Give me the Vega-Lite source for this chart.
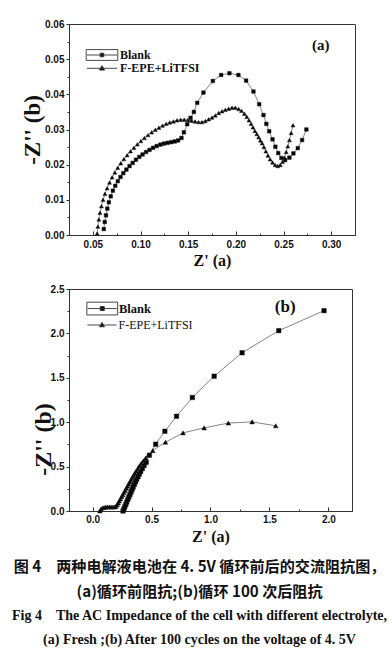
{
  "$schema": "https://vega.github.io/schema/vega-lite/v6.json",
  "background": "white",
  "padding": {"left": 11, "top": 18, "right": 5, "bottom": 5},
  "datasets": {
    "imp": [
      {"panel":"a","series":"Blank","i":1,"x":0.0615,"y":0.0017},
      {"panel":"a","series":"Blank","i":2,"x":0.0625,"y":0.0037},
      {"panel":"a","series":"Blank","i":3,"x":0.0638,"y":0.0056},
      {"panel":"a","series":"Blank","i":4,"x":0.0652,"y":0.0075},
      {"panel":"a","series":"Blank","i":5,"x":0.0668,"y":0.0093},
      {"panel":"a","series":"Blank","i":6,"x":0.0688,"y":0.0110},
      {"panel":"a","series":"Blank","i":7,"x":0.0710,"y":0.0126},
      {"panel":"a","series":"Blank","i":8,"x":0.0735,"y":0.0140},
      {"panel":"a","series":"Blank","i":9,"x":0.0762,"y":0.0153},
      {"panel":"a","series":"Blank","i":10,"x":0.0790,"y":0.0165},
      {"panel":"a","series":"Blank","i":11,"x":0.0820,"y":0.0176},
      {"panel":"a","series":"Blank","i":12,"x":0.0852,"y":0.0186},
      {"panel":"a","series":"Blank","i":13,"x":0.0885,"y":0.0196},
      {"panel":"a","series":"Blank","i":14,"x":0.0918,"y":0.0205},
      {"panel":"a","series":"Blank","i":15,"x":0.0952,"y":0.0214},
      {"panel":"a","series":"Blank","i":16,"x":0.0987,"y":0.0222},
      {"panel":"a","series":"Blank","i":17,"x":0.1022,"y":0.0229},
      {"panel":"a","series":"Blank","i":18,"x":0.1058,"y":0.0236},
      {"panel":"a","series":"Blank","i":19,"x":0.1095,"y":0.0242},
      {"panel":"a","series":"Blank","i":20,"x":0.1132,"y":0.0248},
      {"panel":"a","series":"Blank","i":21,"x":0.1170,"y":0.0253},
      {"panel":"a","series":"Blank","i":22,"x":0.1208,"y":0.0257},
      {"panel":"a","series":"Blank","i":23,"x":0.1246,"y":0.0260},
      {"panel":"a","series":"Blank","i":24,"x":0.1284,"y":0.0262},
      {"panel":"a","series":"Blank","i":25,"x":0.1322,"y":0.0264},
      {"panel":"a","series":"Blank","i":26,"x":0.1360,"y":0.0266},
      {"panel":"a","series":"Blank","i":27,"x":0.1395,"y":0.0269},
      {"panel":"a","series":"Blank","i":28,"x":0.1430,"y":0.0276},
      {"panel":"a","series":"Blank","i":29,"x":0.1455,"y":0.0292},
      {"panel":"a","series":"Blank","i":30,"x":0.1490,"y":0.0315},
      {"panel":"a","series":"Blank","i":31,"x":0.1525,"y":0.0333},
      {"panel":"a","series":"Blank","i":32,"x":0.1560,"y":0.0350},
      {"panel":"a","series":"Blank","i":33,"x":0.1595,"y":0.0376},
      {"panel":"a","series":"Blank","i":34,"x":0.1660,"y":0.0405},
      {"panel":"a","series":"Blank","i":35,"x":0.1759,"y":0.0438},
      {"panel":"a","series":"Blank","i":36,"x":0.1846,"y":0.0455},
      {"panel":"a","series":"Blank","i":37,"x":0.1933,"y":0.0460},
      {"panel":"a","series":"Blank","i":38,"x":0.2027,"y":0.0455},
      {"panel":"a","series":"Blank","i":39,"x":0.2108,"y":0.0439},
      {"panel":"a","series":"Blank","i":40,"x":0.2185,"y":0.0408},
      {"panel":"a","series":"Blank","i":41,"x":0.2245,"y":0.0372},
      {"panel":"a","series":"Blank","i":42,"x":0.2290,"y":0.0341},
      {"panel":"a","series":"Blank","i":43,"x":0.2320,"y":0.0316},
      {"panel":"a","series":"Blank","i":44,"x":0.2350,"y":0.0295},
      {"panel":"a","series":"Blank","i":45,"x":0.2385,"y":0.0272},
      {"panel":"a","series":"Blank","i":46,"x":0.2415,"y":0.0251},
      {"panel":"a","series":"Blank","i":47,"x":0.2445,"y":0.0233},
      {"panel":"a","series":"Blank","i":48,"x":0.2478,"y":0.0219},
      {"panel":"a","series":"Blank","i":49,"x":0.2517,"y":0.0213},
      {"panel":"a","series":"Blank","i":50,"x":0.2562,"y":0.0220},
      {"panel":"a","series":"Blank","i":51,"x":0.2604,"y":0.0232},
      {"panel":"a","series":"Blank","i":52,"x":0.2650,"y":0.0247},
      {"panel":"a","series":"Blank","i":53,"x":0.2695,"y":0.0270},
      {"panel":"a","series":"Blank","i":54,"x":0.2740,"y":0.0300},
      {"panel":"a","series":"F-EPE+LiTFSI","i":1,"x":0.0545,"y":0.0004},
      {"panel":"a","series":"F-EPE+LiTFSI","i":2,"x":0.0553,"y":0.0024},
      {"panel":"a","series":"F-EPE+LiTFSI","i":3,"x":0.0563,"y":0.0044},
      {"panel":"a","series":"F-EPE+LiTFSI","i":4,"x":0.0575,"y":0.0063},
      {"panel":"a","series":"F-EPE+LiTFSI","i":5,"x":0.0590,"y":0.0082},
      {"panel":"a","series":"F-EPE+LiTFSI","i":6,"x":0.0607,"y":0.0100},
      {"panel":"a","series":"F-EPE+LiTFSI","i":7,"x":0.0627,"y":0.0117},
      {"panel":"a","series":"F-EPE+LiTFSI","i":8,"x":0.0650,"y":0.0133},
      {"panel":"a","series":"F-EPE+LiTFSI","i":9,"x":0.0675,"y":0.0149},
      {"panel":"a","series":"F-EPE+LiTFSI","i":10,"x":0.0702,"y":0.0164},
      {"panel":"a","series":"F-EPE+LiTFSI","i":11,"x":0.0731,"y":0.0178},
      {"panel":"a","series":"F-EPE+LiTFSI","i":12,"x":0.0761,"y":0.0191},
      {"panel":"a","series":"F-EPE+LiTFSI","i":13,"x":0.0793,"y":0.0204},
      {"panel":"a","series":"F-EPE+LiTFSI","i":14,"x":0.0826,"y":0.0216},
      {"panel":"a","series":"F-EPE+LiTFSI","i":15,"x":0.0860,"y":0.0227},
      {"panel":"a","series":"F-EPE+LiTFSI","i":16,"x":0.0895,"y":0.0238},
      {"panel":"a","series":"F-EPE+LiTFSI","i":17,"x":0.0931,"y":0.0248},
      {"panel":"a","series":"F-EPE+LiTFSI","i":18,"x":0.0967,"y":0.0258},
      {"panel":"a","series":"F-EPE+LiTFSI","i":19,"x":0.1004,"y":0.0267},
      {"panel":"a","series":"F-EPE+LiTFSI","i":20,"x":0.1041,"y":0.0276},
      {"panel":"a","series":"F-EPE+LiTFSI","i":21,"x":0.1079,"y":0.0284},
      {"panel":"a","series":"F-EPE+LiTFSI","i":22,"x":0.1117,"y":0.0292},
      {"panel":"a","series":"F-EPE+LiTFSI","i":23,"x":0.1155,"y":0.0299},
      {"panel":"a","series":"F-EPE+LiTFSI","i":24,"x":0.1193,"y":0.0305},
      {"panel":"a","series":"F-EPE+LiTFSI","i":25,"x":0.1231,"y":0.0311},
      {"panel":"a","series":"F-EPE+LiTFSI","i":26,"x":0.1269,"y":0.0316},
      {"panel":"a","series":"F-EPE+LiTFSI","i":27,"x":0.1307,"y":0.0320},
      {"panel":"a","series":"F-EPE+LiTFSI","i":28,"x":0.1345,"y":0.0323},
      {"panel":"a","series":"F-EPE+LiTFSI","i":29,"x":0.1383,"y":0.0326},
      {"panel":"a","series":"F-EPE+LiTFSI","i":30,"x":0.1421,"y":0.0328},
      {"panel":"a","series":"F-EPE+LiTFSI","i":31,"x":0.1459,"y":0.0328},
      {"panel":"a","series":"F-EPE+LiTFSI","i":32,"x":0.1497,"y":0.0327},
      {"panel":"a","series":"F-EPE+LiTFSI","i":33,"x":0.1535,"y":0.0325},
      {"panel":"a","series":"F-EPE+LiTFSI","i":34,"x":0.1572,"y":0.0323},
      {"panel":"a","series":"F-EPE+LiTFSI","i":35,"x":0.1609,"y":0.0321},
      {"panel":"a","series":"F-EPE+LiTFSI","i":36,"x":0.1645,"y":0.0321},
      {"panel":"a","series":"F-EPE+LiTFSI","i":37,"x":0.1680,"y":0.0324},
      {"panel":"a","series":"F-EPE+LiTFSI","i":38,"x":0.1715,"y":0.0329},
      {"panel":"a","series":"F-EPE+LiTFSI","i":39,"x":0.1750,"y":0.0334},
      {"panel":"a","series":"F-EPE+LiTFSI","i":40,"x":0.1785,"y":0.0340},
      {"panel":"a","series":"F-EPE+LiTFSI","i":41,"x":0.1820,"y":0.0347},
      {"panel":"a","series":"F-EPE+LiTFSI","i":42,"x":0.1855,"y":0.0352},
      {"panel":"a","series":"F-EPE+LiTFSI","i":43,"x":0.1890,"y":0.0356},
      {"panel":"a","series":"F-EPE+LiTFSI","i":44,"x":0.1925,"y":0.0359},
      {"panel":"a","series":"F-EPE+LiTFSI","i":45,"x":0.1960,"y":0.0362},
      {"panel":"a","series":"F-EPE+LiTFSI","i":46,"x":0.1995,"y":0.0362},
      {"panel":"a","series":"F-EPE+LiTFSI","i":47,"x":0.2030,"y":0.0358},
      {"panel":"a","series":"F-EPE+LiTFSI","i":48,"x":0.2060,"y":0.0353},
      {"panel":"a","series":"F-EPE+LiTFSI","i":49,"x":0.2090,"y":0.0345},
      {"panel":"a","series":"F-EPE+LiTFSI","i":50,"x":0.2115,"y":0.0336},
      {"panel":"a","series":"F-EPE+LiTFSI","i":51,"x":0.2138,"y":0.0326},
      {"panel":"a","series":"F-EPE+LiTFSI","i":52,"x":0.2160,"y":0.0316},
      {"panel":"a","series":"F-EPE+LiTFSI","i":53,"x":0.2180,"y":0.0306},
      {"panel":"a","series":"F-EPE+LiTFSI","i":54,"x":0.2200,"y":0.0296},
      {"panel":"a","series":"F-EPE+LiTFSI","i":55,"x":0.2220,"y":0.0287},
      {"panel":"a","series":"F-EPE+LiTFSI","i":56,"x":0.2240,"y":0.0278},
      {"panel":"a","series":"F-EPE+LiTFSI","i":57,"x":0.2258,"y":0.0269},
      {"panel":"a","series":"F-EPE+LiTFSI","i":58,"x":0.2276,"y":0.0261},
      {"panel":"a","series":"F-EPE+LiTFSI","i":59,"x":0.2295,"y":0.0250},
      {"panel":"a","series":"F-EPE+LiTFSI","i":60,"x":0.2315,"y":0.0238},
      {"panel":"a","series":"F-EPE+LiTFSI","i":61,"x":0.2337,"y":0.0226},
      {"panel":"a","series":"F-EPE+LiTFSI","i":62,"x":0.2360,"y":0.0215},
      {"panel":"a","series":"F-EPE+LiTFSI","i":63,"x":0.2385,"y":0.0206},
      {"panel":"a","series":"F-EPE+LiTFSI","i":64,"x":0.2412,"y":0.0199},
      {"panel":"a","series":"F-EPE+LiTFSI","i":65,"x":0.2440,"y":0.0196},
      {"panel":"a","series":"F-EPE+LiTFSI","i":66,"x":0.2466,"y":0.0199},
      {"panel":"a","series":"F-EPE+LiTFSI","i":67,"x":0.2490,"y":0.0208},
      {"panel":"a","series":"F-EPE+LiTFSI","i":68,"x":0.2510,"y":0.0220},
      {"panel":"a","series":"F-EPE+LiTFSI","i":69,"x":0.2528,"y":0.0236},
      {"panel":"a","series":"F-EPE+LiTFSI","i":70,"x":0.2545,"y":0.0252},
      {"panel":"a","series":"F-EPE+LiTFSI","i":71,"x":0.2562,"y":0.0270},
      {"panel":"a","series":"F-EPE+LiTFSI","i":72,"x":0.2580,"y":0.0290},
      {"panel":"a","series":"F-EPE+LiTFSI","i":73,"x":0.2600,"y":0.0312},
      {"panel":"b","series":"Blank","i":1,"x":0.258,"y":0.000},
      {"panel":"b","series":"Blank","i":2,"x":0.266,"y":0.025},
      {"panel":"b","series":"Blank","i":3,"x":0.274,"y":0.050},
      {"panel":"b","series":"Blank","i":4,"x":0.282,"y":0.075},
      {"panel":"b","series":"Blank","i":5,"x":0.290,"y":0.101},
      {"panel":"b","series":"Blank","i":6,"x":0.299,"y":0.130},
      {"panel":"b","series":"Blank","i":7,"x":0.308,"y":0.158},
      {"panel":"b","series":"Blank","i":8,"x":0.317,"y":0.186},
      {"panel":"b","series":"Blank","i":9,"x":0.326,"y":0.214},
      {"panel":"b","series":"Blank","i":10,"x":0.335,"y":0.242},
      {"panel":"b","series":"Blank","i":11,"x":0.344,"y":0.270},
      {"panel":"b","series":"Blank","i":12,"x":0.354,"y":0.299},
      {"panel":"b","series":"Blank","i":13,"x":0.364,"y":0.328},
      {"panel":"b","series":"Blank","i":14,"x":0.374,"y":0.357},
      {"panel":"b","series":"Blank","i":15,"x":0.385,"y":0.386},
      {"panel":"b","series":"Blank","i":16,"x":0.396,"y":0.415},
      {"panel":"b","series":"Blank","i":17,"x":0.408,"y":0.445},
      {"panel":"b","series":"Blank","i":18,"x":0.422,"y":0.478},
      {"panel":"b","series":"Blank","i":19,"x":0.437,"y":0.512},
      {"panel":"b","series":"Blank","i":20,"x":0.455,"y":0.548},
      {"panel":"b","series":"Blank","i":21,"x":0.482,"y":0.628},
      {"panel":"b","series":"Blank","i":22,"x":0.535,"y":0.752},
      {"panel":"b","series":"Blank","i":23,"x":0.613,"y":0.898},
      {"panel":"b","series":"Blank","i":24,"x":0.712,"y":1.067},
      {"panel":"b","series":"Blank","i":25,"x":0.846,"y":1.278},
      {"panel":"b","series":"Blank","i":26,"x":1.031,"y":1.518},
      {"panel":"b","series":"Blank","i":27,"x":1.268,"y":1.782},
      {"panel":"b","series":"Blank","i":28,"x":1.579,"y":2.031},
      {"panel":"b","series":"Blank","i":29,"x":1.963,"y":2.256},
      {"panel":"b","series":"F-EPE+LiTFSI","i":1,"x":0.062,"y":0.000},
      {"panel":"b","series":"F-EPE+LiTFSI","i":2,"x":0.070,"y":0.020},
      {"panel":"b","series":"F-EPE+LiTFSI","i":3,"x":0.082,"y":0.033},
      {"panel":"b","series":"F-EPE+LiTFSI","i":4,"x":0.097,"y":0.040},
      {"panel":"b","series":"F-EPE+LiTFSI","i":5,"x":0.112,"y":0.044},
      {"panel":"b","series":"F-EPE+LiTFSI","i":6,"x":0.127,"y":0.046},
      {"panel":"b","series":"F-EPE+LiTFSI","i":7,"x":0.142,"y":0.046},
      {"panel":"b","series":"F-EPE+LiTFSI","i":8,"x":0.157,"y":0.045},
      {"panel":"b","series":"F-EPE+LiTFSI","i":9,"x":0.172,"y":0.044},
      {"panel":"b","series":"F-EPE+LiTFSI","i":10,"x":0.186,"y":0.045},
      {"panel":"b","series":"F-EPE+LiTFSI","i":11,"x":0.198,"y":0.052},
      {"panel":"b","series":"F-EPE+LiTFSI","i":12,"x":0.208,"y":0.070},
      {"panel":"b","series":"F-EPE+LiTFSI","i":13,"x":0.217,"y":0.090},
      {"panel":"b","series":"F-EPE+LiTFSI","i":14,"x":0.226,"y":0.112},
      {"panel":"b","series":"F-EPE+LiTFSI","i":15,"x":0.236,"y":0.136},
      {"panel":"b","series":"F-EPE+LiTFSI","i":16,"x":0.246,"y":0.160},
      {"panel":"b","series":"F-EPE+LiTFSI","i":17,"x":0.256,"y":0.184},
      {"panel":"b","series":"F-EPE+LiTFSI","i":18,"x":0.266,"y":0.208},
      {"panel":"b","series":"F-EPE+LiTFSI","i":19,"x":0.276,"y":0.232},
      {"panel":"b","series":"F-EPE+LiTFSI","i":20,"x":0.286,"y":0.256},
      {"panel":"b","series":"F-EPE+LiTFSI","i":21,"x":0.296,"y":0.280},
      {"panel":"b","series":"F-EPE+LiTFSI","i":22,"x":0.306,"y":0.304},
      {"panel":"b","series":"F-EPE+LiTFSI","i":23,"x":0.316,"y":0.328},
      {"panel":"b","series":"F-EPE+LiTFSI","i":24,"x":0.326,"y":0.352},
      {"panel":"b","series":"F-EPE+LiTFSI","i":25,"x":0.336,"y":0.376},
      {"panel":"b","series":"F-EPE+LiTFSI","i":26,"x":0.347,"y":0.400},
      {"panel":"b","series":"F-EPE+LiTFSI","i":27,"x":0.358,"y":0.425},
      {"panel":"b","series":"F-EPE+LiTFSI","i":28,"x":0.370,"y":0.450},
      {"panel":"b","series":"F-EPE+LiTFSI","i":29,"x":0.383,"y":0.478},
      {"panel":"b","series":"F-EPE+LiTFSI","i":30,"x":0.397,"y":0.506},
      {"panel":"b","series":"F-EPE+LiTFSI","i":31,"x":0.412,"y":0.534},
      {"panel":"b","series":"F-EPE+LiTFSI","i":32,"x":0.430,"y":0.565},
      {"panel":"b","series":"F-EPE+LiTFSI","i":33,"x":0.450,"y":0.597},
      {"panel":"b","series":"F-EPE+LiTFSI","i":34,"x":0.475,"y":0.632},
      {"panel":"b","series":"F-EPE+LiTFSI","i":35,"x":0.510,"y":0.680},
      {"panel":"b","series":"F-EPE+LiTFSI","i":36,"x":0.618,"y":0.775},
      {"panel":"b","series":"F-EPE+LiTFSI","i":37,"x":0.767,"y":0.880},
      {"panel":"b","series":"F-EPE+LiTFSI","i":38,"x":0.946,"y":0.936},
      {"panel":"b","series":"F-EPE+LiTFSI","i":39,"x":1.151,"y":0.990},
      {"panel":"b","series":"F-EPE+LiTFSI","i":40,"x":1.353,"y":1.004},
      {"panel":"b","series":"F-EPE+LiTFSI","i":41,"x":1.553,"y":0.959}
    ]
  },
  "data": {"name": "imp"},
  "title": {
    "text": ["图 4　两种电解液电池在 4. 5V 循环前后的交流阻抗图，", "(a)循环前阻抗;(b)循环 100 次后阻抗"],
    "subtitle": ["Fig 4　The AC Impedance of the cell with different electrolyte,", "(a) Fresh ;(b) After 100 cycles on the voltage of 4. 5V"],
    "orient": "bottom",
    "anchor": "middle",
    "offset": 15,
    "dx": 11,
    "font": "Noto Sans CJK SC",
    "fontSize": 15.1,
    "fontWeight": "bold",
    "lineHeight": 25,
    "color": "#111",
    "subtitleFont": "Liberation Serif",
    "subtitleFontSize": 14,
    "subtitleFontWeight": "bold",
    "subtitleLineHeight": 24,
    "subtitleColor": "#111",
    "subtitlePadding": 8.7
  },
  "spacing": 14,
  "vconcat": [
    {
      "width": 286,
      "height": 211,
      "transform": [{"filter": "datum.panel == 'a'"}],
      "resolve": {"scale": {"color": "independent"}},
      "layer": [
        {
          "mark": {"type": "line", "color": "#666", "strokeWidth": 0.8},
          "encoding": {
            "x": {"field": "x", "type": "quantitative", "scale": {"domain": [0.025, 0.325], "nice": false, "zero": false},
              "axis": {"title": "Z' (a)", "tickCount": 100, "values": [0.025,0.05,0.075,0.1,0.125,0.15,0.175,0.2,0.225,0.25,0.275,0.3,0.325],
                "labelExpr": "abs(datum.value/0.05 - round(datum.value/0.05)) < 0.01 ? format(datum.value, '.2f') : ''",
                "tickSize": {"condition": {"test": "abs(datum.value/0.05 - round(datum.value/0.05)) < 0.01", "value": -4}, "value": -2},
                "labelOverlap": false, "labelPadding": 8.5, "titlePadding": 1}},
            "y": {"field": "y", "type": "quantitative", "scale": {"domain": [0, 0.06], "nice": false, "zero": false},
              "axis": {"title": "-Z'' (b)", "titleFontSize": 23, "tickCount": 100, "values": [0,0.005,0.01,0.015,0.02,0.025,0.03,0.035,0.04,0.045,0.05,0.055,0.06],
                "labelExpr": "abs(datum.value/0.01 - round(datum.value/0.01)) < 0.01 ? format(datum.value, '.2f') : ''",
                "tickSize": {"condition": {"test": "abs(datum.value/0.01 - round(datum.value/0.01)) < 0.01", "value": 3}, "value": 2},
                "labelOverlap": false, "labelPadding": 2, "titlePadding": 0}},
            "detail": {"field": "series"},
            "order": {"field": "i"}
          }
        },
        {
          "transform": [{"filter": "datum.series == 'Blank'"}],
          "mark": {"type": "point", "shape": "square", "filled": true, "opacity": 1, "size": 13, "stroke": "#222", "strokeWidth": 0.5},
          "encoding": {
            "x": {"field": "x", "type": "quantitative"},
            "y": {"field": "y", "type": "quantitative"},
            "color": {"field": "series", "type": "nominal", "scale": {"range": ["black"]},
              "legend": {"title": null, "orient": "none", "legendX": 27, "legendY": 25, "padding": 0,
                "labelFont": "Liberation Serif", "labelFontSize": 12, "labelFontWeight": "bold", "labelColor": "#111",
                "labelOffset": 12, "symbolSize": 16,
                "symbolType": "M-7.5,0H7.5M-0.9,-0.9H0.9V0.9H-0.9ZM-7.9,-2.7H7.9M7.9,-2.7V2.7M7.9,2.7H-7.9M-7.9,2.7V-2.7",
                "symbolFillColor": "black", "symbolStrokeColor": "#333", "symbolStrokeWidth": 0.9}}
          }
        },
        {
          "transform": [{"filter": "datum.series == 'F-EPE+LiTFSI'"}],
          "mark": {"type": "point", "shape": "triangle-up", "filled": true, "opacity": 1, "size": 16, "stroke": "#222", "strokeWidth": 0.5},
          "encoding": {
            "x": {"field": "x", "type": "quantitative"},
            "y": {"field": "y", "type": "quantitative"},
            "color": {"field": "series", "type": "nominal", "scale": {"range": ["black"]},
              "legend": {"title": null, "orient": "none", "legendX": 27, "legendY": 38.3, "padding": 0,
                "labelFont": "Liberation Serif", "labelFontSize": 12, "labelFontWeight": "bold", "labelColor": "#111",
                "labelOffset": 12, "symbolSize": 16,
                "symbolType": "M-7.5,0H7.5M0,-1.3L1.25,0.9H-1.25Z",
                "symbolFillColor": "black", "symbolStrokeColor": "#333", "symbolStrokeWidth": 0.9}}
          }
        },
        {
          "data": {"values": [{"label": "(a)"}]},
          "mark": {"type": "text", "font": "Liberation Serif", "fontWeight": "bold", "fontSize": 15, "color": "#111"},
          "encoding": {
            "x": {"datum": 0.289, "type": "quantitative"},
            "y": {"datum": 0.054, "type": "quantitative"},
            "text": {"field": "label"}
          }
        }
      ]
    },
    {
      "width": 283,
      "height": 222,
      "transform": [{"filter": "datum.panel == 'b'"}],
      "resolve": {"scale": {"color": "independent"}},
      "layer": [
        {
          "mark": {"type": "line", "color": "#666", "strokeWidth": 0.8},
          "encoding": {
            "x": {"field": "x", "type": "quantitative", "scale": {"domain": [-0.2, 2.2], "nice": false, "zero": false},
              "axis": {"title": "Z' (a)", "tickCount": 100, "values": [0,0.25,0.5,0.75,1,1.25,1.5,1.75,2],
                "labelExpr": "abs(datum.value/0.5 - round(datum.value/0.5)) < 0.01 ? format(datum.value, '.1f') : ''",
                "tickSize": {"condition": {"test": "abs(datum.value/0.5 - round(datum.value/0.5)) < 0.01", "value": -4}, "value": -2},
                "labelOverlap": false, "labelPadding": 7.5, "titlePadding": 2}},
            "y": {"field": "y", "type": "quantitative", "scale": {"domain": [0, 2.5], "nice": false, "zero": false},
              "axis": {"title": "-Z'' (b)", "titleFontSize": 24, "titleY": 150, "tickCount": 100, "values": [0,0.25,0.5,0.75,1,1.25,1.5,1.75,2,2.25,2.5],
                "labelExpr": "abs(datum.value/0.5 - round(datum.value/0.5)) < 0.01 ? format(datum.value, '.1f') : ''",
                "tickSize": {"condition": {"test": "abs(datum.value/0.5 - round(datum.value/0.5)) < 0.01", "value": 3}, "value": 2},
                "labelOverlap": false, "labelPadding": 2, "titlePadding": -5}},
            "detail": {"field": "series"},
            "order": {"field": "i"}
          }
        },
        {
          "transform": [{"filter": "datum.series == 'Blank'"}],
          "mark": {"type": "point", "shape": "square", "filled": true, "opacity": 1, "size": 20, "stroke": "#222", "strokeWidth": 0.5},
          "encoding": {
            "x": {"field": "x", "type": "quantitative"},
            "y": {"field": "y", "type": "quantitative"},
            "color": {"field": "series", "type": "nominal", "scale": {"range": ["black"]},
              "legend": {"title": null, "orient": "none", "legendX": 27, "legendY": 13.3, "padding": 0,
                "labelFont": "Liberation Serif", "labelFontSize": 12.5, "labelFontWeight": "bold", "labelColor": "#111",
                "labelOffset": 10.5, "symbolSize": 16,
                "symbolType": "M-7.3,0H7.3M-1,-1H1V1H-1ZM-7.7,-3.2H7.7M7.7,-3.2V3.2M7.7,3.2H-7.7M-7.7,3.2V-3.2",
                "symbolFillColor": "black", "symbolStrokeColor": "#333", "symbolStrokeWidth": 0.9}}
          }
        },
        {
          "transform": [{"filter": "datum.series == 'F-EPE+LiTFSI'"}],
          "mark": {"type": "point", "shape": "triangle-up", "filled": true, "opacity": 1, "size": 22, "stroke": "#222", "strokeWidth": 0.5},
          "encoding": {
            "x": {"field": "x", "type": "quantitative"},
            "y": {"field": "y", "type": "quantitative"},
            "color": {"field": "series", "type": "nominal", "scale": {"range": ["black"]},
              "legend": {"title": null, "orient": "none", "legendX": 27, "legendY": 30, "padding": 0,
                "labelFont": "Liberation Serif", "labelFontSize": 12, "labelFontWeight": "normal", "labelColor": "#111",
                "labelOffset": 10.5, "symbolSize": 16,
                "symbolType": "M-7.3,0H7.3M0,-1.3L1.25,0.9H-1.25Z",
                "symbolFillColor": "black", "symbolStrokeColor": "#333", "symbolStrokeWidth": 0.9}}
          }
        },
        {
          "data": {"values": [{"label": "(b)"}]},
          "mark": {"type": "text", "font": "Liberation Serif", "fontWeight": "bold", "fontSize": 17, "color": "#111"},
          "encoding": {
            "x": {"datum": 1.634, "type": "quantitative"},
            "y": {"datum": 2.3, "type": "quantitative"},
            "text": {"field": "label"}
          }
        }
      ]
    }
  ],
  "config": {
    "view": {"stroke": "#333", "strokeWidth": 1},
    "axis": {"grid": false, "domainColor": "#333", "tickColor": "#333", "domainWidth": 1,
      "labelFont": "Liberation Sans", "labelFontWeight": "bold", "labelFontSize": 10, "labelColor": "#111",
      "titleFont": "Liberation Serif", "titleFontWeight": "bold", "titleColor": "#111",
      "labelOverlap": false, "labelFlush": false, "labelBound": false},
    "axisX": {"titleFontSize": 16},
    "axisY": {"titleFontSize": 21}
  }
}
